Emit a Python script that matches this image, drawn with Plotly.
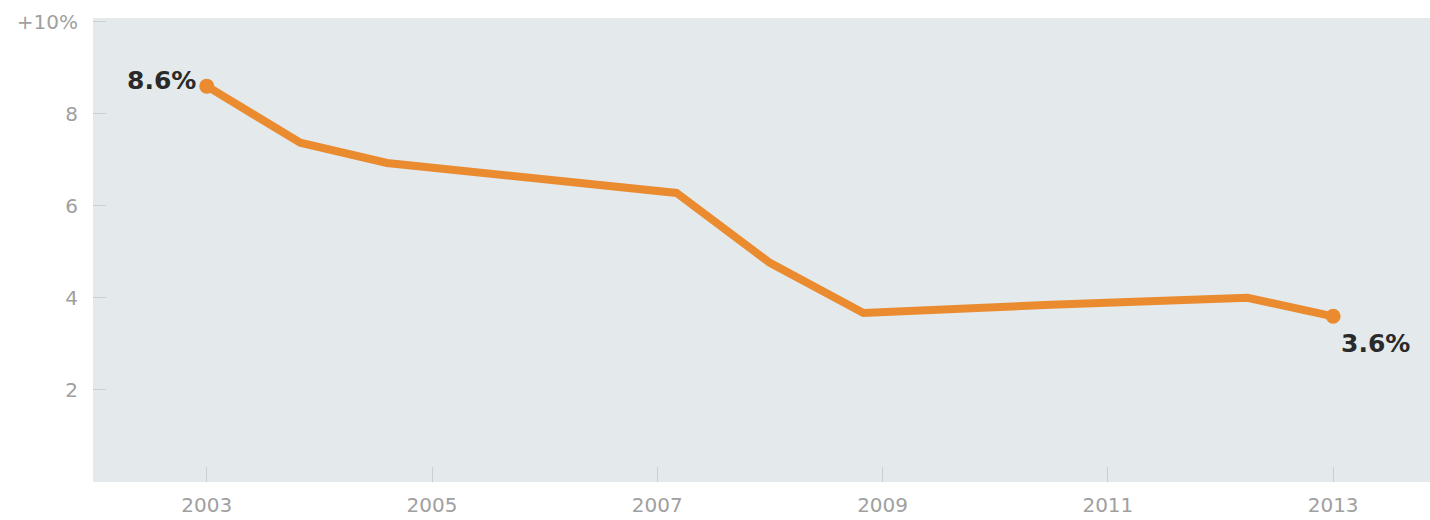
import plotly.graph_objects as go

# Annual growth rate, %, sampled along the timeline (fractional years)
years = [2003.0, 2003.83, 2004.6, 2007.17, 2008.0, 2008.83, 2010.49, 2012.24, 2013.0]
growth = [8.6, 7.37, 6.93, 6.28, 4.76, 3.67, 3.85, 4.0, 3.6]

x_tick_vals = [2003, 2005, 2007, 2009, 2011, 2013]
x_tick_text = ["2003", "2005", "2007", "2009", "2011", "2013"]
y_tick_vals = [2, 4, 6, 8, 10]
y_tick_text = ["2", "4", "6", "8", "+10%"]

start_label = "8.6%"
end_label = "3.6%"

LINE = "#EA8B30"
TICK_FONT = dict(family="DejaVu Sans", size=20, color="#a0a0a0")
LABEL_FONT = dict(family="DejaVu Sans", size=25, color="#2a2a2a")

fig = go.Figure()

# the series line
fig.add_trace(
    go.Scatter(
        x=years,
        y=growth,
        mode="lines",
        line=dict(color=LINE, width=8),
        hoverinfo="skip",
    )
)

# dots on the first and last values
fig.add_trace(
    go.Scatter(
        x=[years[0], years[-1]],
        y=[growth[0], growth[-1]],
        mode="markers",
        marker=dict(color=LINE, size=15, opacity=1, line=dict(width=0)),
        hoverinfo="skip",
    )
)

fig.add_annotation(
    x=years[0], y=growth[0], text="<b>" + start_label + "</b>",
    showarrow=False, xanchor="right", yanchor="middle",
    xshift=-9, yshift=6, font=LABEL_FONT,
)
fig.add_annotation(
    x=years[-1], y=growth[-1], text="<b>" + end_label + "</b>",
    showarrow=False, xanchor="left", yanchor="middle",
    xshift=6, yshift=-27, font=LABEL_FONT,
)

fig.update_layout(
    width=1430,
    height=520,
    margin=dict(l=93, r=0, t=18, b=38),
    paper_bgcolor="white",
    plot_bgcolor="#e4e9eb",
    showlegend=False,
    xaxis=dict(
        range=[2001.99, 2013.86],
        tickvals=x_tick_vals,
        ticktext=x_tick_text,
        ticks="inside",
        ticklen=15,
        tickwidth=1,
        tickcolor="#c9cfd2",
        showgrid=False,
        zeroline=False,
        showline=False,
        tickfont=TICK_FONT,
        ticklabelstandoff=9,
    ),
    yaxis=dict(
        range=[0, 10.08],
        tickvals=y_tick_vals,
        ticktext=y_tick_text,
        ticks="inside",
        ticklen=13,
        tickwidth=1,
        tickcolor="#c9cfd2",
        showgrid=False,
        zeroline=False,
        showline=False,
        tickfont=TICK_FONT,
        ticklabelstandoff=14,
    ),
)

fig.write_html("out.html")
